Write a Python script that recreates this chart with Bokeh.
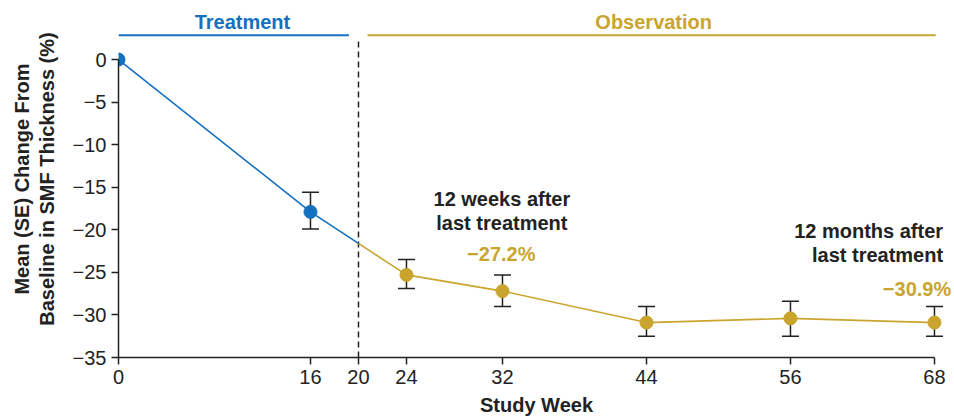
from bokeh.plotting import figure
from bokeh.models import Range1d, FixedTicker
from bokeh.core.properties import value
from bokeh.embed import file_html
from bokeh.resources import INLINE

# ---- data ----
weeks = [0, 16, 24, 32, 44, 56, 68]
mean_change = [0.0, -17.9, -25.3, -27.2, -30.9, -30.4, -30.9]
se_low = [0.0, -19.9, -26.9, -29.0, -32.5, -32.5, -32.5]
se_high = [0.0, -15.6, -23.5, -25.3, -29.0, -28.4, -29.0]
treatment_end_week = 20
x_ticks = [0, 16, 20, 24, 32, 44, 56, 68]
y_ticks = [0, -5, -10, -15, -20, -25, -30, -35]
y_tick_labels = ["0", "\u22125", "\u221210", "\u221215", "\u221220", "\u221225", "\u221230", "\u221235"]
ann_12w = -27.2
ann_12m = -30.9

BLUE = "#1570be"
GOLD = "#c9a52e"
DARK = "#222222"
FONT = "Liberation Sans"
FS = "20px"

p = figure(width=954, height=420, output_backend="svg", toolbar_location=None,
           x_range=Range1d(0, 69.67), y_range=Range1d(-35, 6.93),
           min_border_left=118, min_border_right=0, min_border_top=0, min_border_bottom=63)
p.outline_line_color = None
p.grid.visible = False
p.background_fill_color = "white"

# axes
p.yaxis.bounds = (-35, 0)
p.xaxis.bounds = (0, 68)
for ax in (p.xaxis, p.yaxis):
    ax.axis_line_color = DARK
    ax.axis_line_width = 1.5
    ax.major_tick_line_color = DARK
    ax.major_tick_line_width = 1.5
    ax.major_tick_out = 7
    ax.major_tick_in = 0
    ax.minor_tick_line_color = None
    ax.major_label_text_font = FONT
    ax.major_label_text_font_size = FS
    ax.major_label_text_color = DARK
    ax.axis_label_text_font = FONT
    ax.axis_label_text_font_style = "bold"
    ax.axis_label_text_font_size = FS
    ax.axis_label_text_color = DARK
p.yaxis.ticker = FixedTicker(ticks=y_ticks)
p.yaxis.major_label_overrides = {t: l for t, l in zip(y_ticks, y_tick_labels)}
p.yaxis.major_label_standoff = 5
p.yaxis.axis_label = "Mean (SE) Change From\nBaseline in SMF Thickness (%)"
p.yaxis.axis_label_standoff = 12
p.yaxis.axis_label_text_line_height = 1.1
p.xaxis.ticker = FixedTicker(ticks=x_ticks)
p.xaxis.major_label_standoff = 5
p.xaxis.axis_label = "Study Week"
p.xaxis.axis_label_standoff = 7

# split the line at end of treatment
i = next(k for k, w in enumerate(weeks) if w > treatment_end_week)
w0, w1 = weeks[i - 1], weeks[i]
m0, m1 = mean_change[i - 1], mean_change[i]
y_split = m0 + (m1 - m0) * (treatment_end_week - w0) / (w1 - w0)

blue_x = weeks[:i] + [treatment_end_week]
blue_y = mean_change[:i] + [y_split]
gold_x = [treatment_end_week] + weeks[i:]
gold_y = [y_split] + mean_change[i:]

# dashed divider
p.segment(x0=[treatment_end_week], y0=[-35], x1=[treatment_end_week], y1=[2.15],
          line_color=DARK, line_width=1.5, line_dash="6 4")

p.line(blue_x, blue_y, line_color=BLUE, line_width=1.6)
p.line(gold_x, gold_y, line_color=GOLD, line_width=1.6)

# error bars (skip baseline)
ex = weeks[1:]
p.segment(x0=ex, y0=se_low[1:], x1=ex, y1=se_high[1:], line_color=DARK, line_width=1.5)
p.scatter(ex + ex, se_low[1:] + se_high[1:], marker="dash", size=17,
          line_color=DARK, line_width=1.5)

colors = [BLUE if w <= treatment_end_week else GOLD for w in weeks]
p.scatter(weeks, mean_change, size=13, fill_color=colors, line_color=colors)

# header bars
p.segment(x0=[0], y0=[2.85], x1=[19.2], y1=[2.85], line_color=BLUE, line_width=2)
p.segment(x0=[20.75], y0=[2.85], x1=[68.1], y1=[2.85], line_color=GOLD, line_width=2)
p.text(x=[10.33], y=[4.45], text=["Treatment"], text_color=BLUE,
       text_font=value(FONT), text_font_style="bold", text_font_size=FS,
       text_align="center", text_baseline="middle")
p.text(x=[44.6], y=[4.45], text=["Observation"], text_color=GOLD,
       text_font=value(FONT), text_font_style="bold", text_font_size=FS,
       text_align="center", text_baseline="middle")

# annotations
p.text(x=[31.95, 31.95], y=[-16.4, -19.2], text=["12 weeks after", "last treatment"],
       text_color=DARK, text_font=value(FONT), text_font_style="bold",
       text_font_size=FS, text_align="center", text_baseline="middle")
p.text(x=[31.9], y=[-22.8], text=["\u2212" + f"{abs(ann_12w):.1f}%"], text_color=GOLD,
       text_font=value(FONT), text_font_style="bold", text_font_size=FS,
       text_align="center", text_baseline="middle")
p.text(x=[68.72, 68.72], y=[-20.2, -23.0], text=["12 months after", "last treatment"],
       text_color=DARK, text_font=value(FONT), text_font_style="bold",
       text_font_size=FS, text_align="right", text_baseline="middle")
p.text(x=[69.4], y=[-26.9], text=["\u2212" + f"{abs(ann_12m):.1f}%"], text_color=GOLD,
       text_font=value(FONT), text_font_style="bold", text_font_size=FS,
       text_align="right", text_baseline="middle")

open("out.html", "w").write(file_html(p, INLINE))
